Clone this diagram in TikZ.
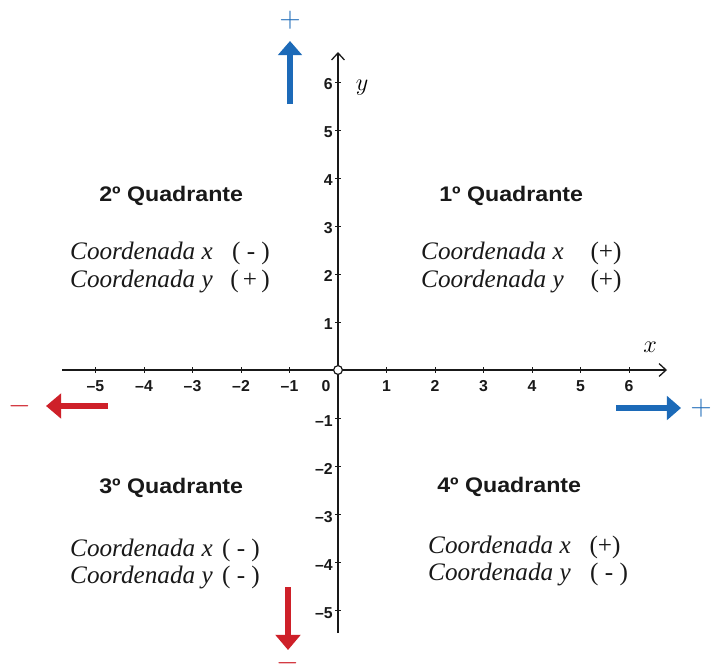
\documentclass[tikz,border=0pt]{standalone}
\usepackage{fontspec}
\setmainfont{Liberation Serif}
\newfontfamily\sansfont{Liberation Sans}
\usetikzlibrary{arrows.meta}
\definecolor{myblue}{RGB}{28,106,184}
\definecolor{myred}{RGB}{206,32,41}
\definecolor{axisgray}{RGB}{25,25,25}
\begin{document}
\begin{tikzpicture}[x=0.03cm,y=-0.03cm,
  axisline/.style={line width=1.7pt, draw=axisgray, -{Straight Barb[length=6pt,width=11pt,line width=1.1pt]}},
  tickmark/.style={line width=0.7pt, draw=axisgray},
  ticklab/.style={font=\sansfont\bfseries\fontsize{13.5}{13.5}\selectfont, inner sep=0pt, text=axisgray},
  quadtitle/.style={font=\sansfont\bfseries\fontsize{18}{18}\selectfont, inner sep=0pt, xscale=1.1, anchor=base west, text=black!90},
  coordtext/.style={font=\itshape\fontsize{21.5}{21.5}\selectfont, inner sep=0pt, anchor=base west, text=black!90},
  signtext/.style={font=\fontsize{21.5}{21.5}\selectfont, inner sep=0pt, anchor=base, text=black!90},
  axisletter/.style={font=\fontsize{22}{22}\selectfont, inner sep=0pt},
  bluearrow/.style={line width=4.6pt, draw=myblue, -{Triangle[length=12pt,width=20pt]}},
  redarrow/.style={line width=4.6pt, draw=myred, -{Triangle[length=13pt,width=21pt]}},
  bluesign/.style={font=\fontsize{24}{24}\selectfont, inner sep=0pt, text=myblue},
  redsign/.style={font=\fontsize{24}{24}\selectfont, inner sep=0pt, text=myred}
]
\useasboundingbox (0,0) rectangle (712,663);
\fill[white] (0,0) rectangle (712,663);

% axes
\coordinate (xL) at (62,370);
\coordinate (xR) at (667,370);
\coordinate (yB) at (338,633);
\coordinate (yT) at (338,52);
\draw[axisline] (xL) -- (xR);
\draw[axisline] (yB) -- (yT);

% ticks and labels on x axis
\foreach \k in {-5,...,-1,1,2,...,6}{
  \coordinate (xt\k) at ({338+48.5*\k},370);
  \draw[tickmark] ([yshift=-2.5pt]xt\k) -- ([yshift=2.5pt]xt\k);
}
\foreach \k in {1,...,6}{
  \node[ticklab] (xl\k) at ({338+48.5*\k},386) {\k};
}
\foreach \k in {1,...,5}{
  \node[ticklab] (xln\k) at ({338-48.5*\k},386) {\textendash\k};
}
\node[ticklab] (xl0) at (326,386) {0};

% ticks and labels on y axis
\foreach \k in {1,...,6}{
  \coordinate (yt\k) at (338,{370-48*\k});
  \draw[tickmark] ([xshift=-2.5pt]yt\k) -- ([xshift=2.5pt]yt\k);
  \node[ticklab, anchor=east] (yl\k) at (333,{372-48*\k}) {\k};
}
\foreach \k in {1,...,5}{
  \coordinate (ytn\k) at (338,{370+48*\k});
  \draw[tickmark] ([xshift=-2.5pt]ytn\k) -- ([xshift=2.5pt]ytn\k);
  \node[ticklab, anchor=east] (yln\k) at (333,{373+48*\k}) {\textendash\k};
}

% origin
\node[circle, draw=axisgray, fill=white, line width=1pt, minimum size=7.5pt, inner sep=0pt] (O) at (338,370) {};

% axis letters
\node[axisletter] (xlabel) at (650,347) {$x$};
\node[axisletter] (ylabel) at (362,88) {$y$};

% quadrant titles
\node[quadtitle] (t2) at (99,201) {2º Quadrante};
\node[quadtitle] (t1) at (439,201) {1º Quadrante};
\node[quadtitle] (t3) at (99,493) {3º Quadrante};
\node[quadtitle] (t4) at (437,492) {4º Quadrante};

% quadrant 2
\node[coordtext] (q2x) at (70,259) {Coordenada x};
\node[signtext] (q2xs) at (251,259) {( - )};
\node[coordtext] (q2y) at (70,287) {Coordenada y};
\node[signtext] (q2ys) at (250,287) {(\,+\,)};

% quadrant 1
\node[coordtext] (q1x) at (421,259) {Coordenada x};
\node[signtext] (q1xs) at (606,259) {(+)};
\node[coordtext] (q1y) at (421,287) {Coordenada y};
\node[signtext] (q1ys) at (606,287) {(+)};

% quadrant 3
\node[coordtext] (q3x) at (70,556) {Coordenada x};
\node[signtext] (q3xs) at (241,556) {( - )};
\node[coordtext] (q3y) at (70,583) {Coordenada y};
\node[signtext] (q3ys) at (241,583) {( - )};

% quadrant 4
\node[coordtext] (q4x) at (428,553) {Coordenada x};
\node[signtext] (q4xs) at (605,553) {(+)};
\node[coordtext] (q4y) at (428,580) {Coordenada y};
\node[signtext] (q4ys) at (609,580) {( - )};

% direction arrows
\coordinate (upS) at (290,104);
\coordinate (upT) at (290,41);
\draw[bluearrow] (upS) -- (upT);
\node[bluesign] (upSign) at (290,20) {$+$};

\coordinate (leftS) at (108,406);
\coordinate (leftT) at (46,406);
\draw[redarrow] (leftS) -- (leftT);
\node[redsign] (leftSign) at (20,406) {$-$};

\coordinate (rightS) at (616,408);
\coordinate (rightT) at (681,408);
\draw[bluearrow] (rightS) -- (rightT);
\node[bluesign] (rightSign) at (701,408) {$+$};

\coordinate (downS) at (288,587);
\coordinate (downT) at (288,650);
\draw[redarrow] (downS) -- (downT);
\node[redsign] (downSign) at (288,663) {$-$};
\end{tikzpicture}
\end{document}
